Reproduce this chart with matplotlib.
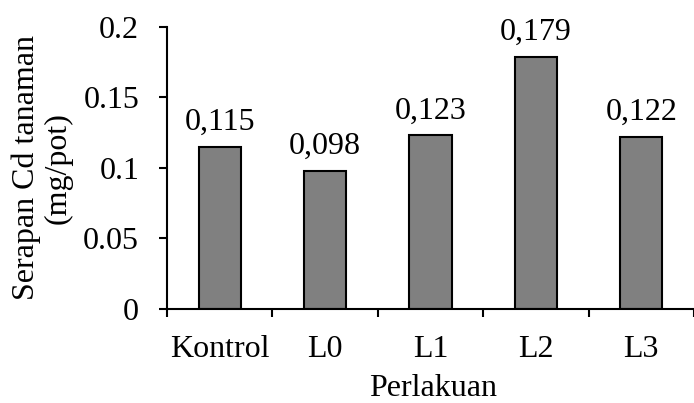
import matplotlib.pyplot as plt
from matplotlib.ticker import FixedLocator, FuncFormatter

perlakuan = ["Kontrol", "L0", "L1", "L2", "L3"]
serapan_cd = [0.115, 0.098, 0.123, 0.179, 0.122]
label_nilai = ["0,115", "0,098", "0,123", "0,179", "0,122"]

plt.rcParams["font.family"] = ["Liberation Serif", "DejaVu Serif"]
plt.rcParams["font.size"] = 23

fig = plt.figure(figsize=(6.94, 4.03), dpi=100)
ax = fig.add_axes([0.2406, 0.2333, 0.7594, 0.70])

x = list(range(len(perlakuan)))
bars = ax.bar(x, serapan_cd, width=0.4, color="#808080", edgecolor="black", linewidth=1.5)

# label nilai di atas batang
for b, lab in zip(bars, label_nilai):
    ax.annotate(lab, (b.get_x() + b.get_width() / 2, b.get_height()),
                xytext=(0, 7), textcoords="offset points", ha="center", va="bottom")

ax.set_xlim(-0.5, len(perlakuan) - 0.5)
ax.set_ylim(0, 0.2)
ax.set_yticks([0, 0.05, 0.1, 0.15, 0.2])
ax.yaxis.set_major_formatter(FuncFormatter(lambda v, p: f"{v:g}"))

ax.set_xticks(x)
ax.set_xticklabels(perlakuan)
ax.xaxis.set_minor_locator(FixedLocator([i - 0.5 for i in range(len(perlakuan) + 1)]))
ax.tick_params(axis="x", which="major", length=0, pad=19)
ax.tick_params(axis="x", which="minor", length=6, width=1.5, direction="out")
ax.tick_params(axis="y", length=6, width=1.5, direction="out", pad=14)

for s in ["top", "right"]:
    ax.spines[s].set_visible(False)
for s in ["left", "bottom"]:
    ax.spines[s].set_linewidth(1.5)

fig.text(433 / 694, 1 - 389 / 403, "Perlakuan", ha="center", va="center")
fig.text(42 / 694, 0.584, "Serapan Cd tanaman\n(mg/pot)", rotation=90,
         ha="center", va="center", linespacing=1.15)

fig.savefig("out.png", dpi=100)
